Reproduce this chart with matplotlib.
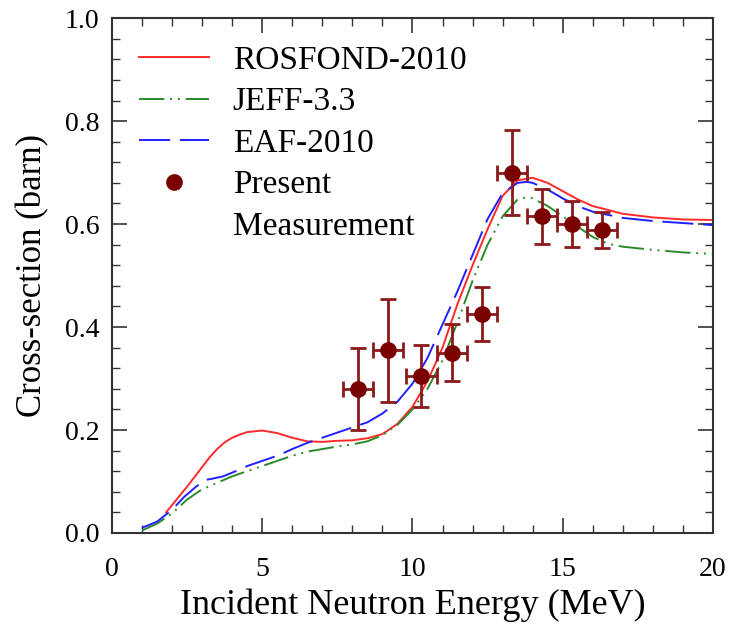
import matplotlib
matplotlib.use('Agg')
import matplotlib.pyplot as plt
from matplotlib.lines import Line2D
from matplotlib.ticker import MultipleLocator

plt.rcParams['font.family'] = ['Liberation Serif', 'DejaVu Serif']

# evaluated data libraries
ros_x = [1.8, 2.5, 3.0, 3.25, 3.5, 3.75, 4.0, 4.25, 4.5, 5.0, 5.5, 6.0, 6.5, 7.0, 7.5,
         8.0, 8.5, 9.0, 9.5, 10.0, 10.5, 11.0, 11.5, 12.0, 12.5, 13.0, 13.5, 14.0, 14.5,
         15.0, 15.5, 16.0, 17.0, 18.0, 19.0, 20.0]
ros_y = [0.04, 0.09, 0.128, 0.147, 0.163, 0.176, 0.185, 0.191, 0.196, 0.199, 0.194, 0.185,
         0.178, 0.177, 0.179, 0.18, 0.184, 0.192, 0.212, 0.245, 0.295, 0.36, 0.445, 0.52,
         0.59, 0.655, 0.685, 0.69, 0.68, 0.664, 0.648, 0.635, 0.62, 0.613, 0.609, 0.608]

jeff_x = [1.0, 1.5, 2.0, 2.5, 3.0, 3.3, 3.6, 4.0, 4.5, 5.0, 5.5, 6.0, 6.5, 7.0, 7.5, 8.0,
          8.5, 9.0, 9.5, 10.0, 10.5, 11.0, 11.5, 12.0, 12.5, 13.0, 13.5, 13.8, 14.0, 14.5,
          15.0, 15.5, 16.0, 16.5, 17.0, 18.0, 19.0, 20.0]
jeff_y = [0.005, 0.018, 0.038, 0.065, 0.085, 0.092, 0.1, 0.11, 0.12, 0.13, 0.14, 0.15,
          0.158, 0.163, 0.168, 0.172, 0.178, 0.19, 0.21, 0.24, 0.28, 0.335, 0.41, 0.49,
          0.56, 0.615, 0.648, 0.652, 0.65, 0.635, 0.615, 0.595, 0.575, 0.562, 0.556,
          0.55, 0.545, 0.542]

eaf_x = [1.0, 1.5, 2.0, 2.4, 2.8, 3.1, 3.3, 3.7, 4.2, 4.5, 5.0, 5.5, 6.0, 6.5, 7.0, 7.5,
         8.0, 8.5, 9.0, 9.5, 10.0, 10.5, 11.0, 11.5, 12.0, 12.5, 13.0, 13.5, 13.8, 14.0,
         14.5, 15.0, 15.5, 16.0, 17.0, 18.0, 19.0, 20.0]
eaf_y = [0.01, 0.022, 0.045, 0.07, 0.09, 0.103, 0.105, 0.11, 0.122, 0.13, 0.14, 0.15,
         0.163, 0.175, 0.185, 0.195, 0.205, 0.215, 0.232, 0.255, 0.29, 0.34, 0.405, 0.47,
         0.54, 0.61, 0.66, 0.68, 0.682, 0.68, 0.667, 0.65, 0.635, 0.624, 0.612, 0.606,
         0.602, 0.598]

# present measurement
meas_x = [8.2, 9.2, 10.3, 11.3, 12.3, 13.3, 14.3, 15.3, 16.3]
meas_y = [0.28, 0.355, 0.305, 0.35, 0.425, 0.70, 0.615, 0.60, 0.588]
meas_yerr = [0.08, 0.10, 0.06, 0.055, 0.053, 0.082, 0.053, 0.045, 0.035]
meas_xerr = [0.5, 0.5, 0.5, 0.5, 0.5, 0.5, 0.5, 0.5, 0.5]

dark_red = '#7a0000'

fig = plt.figure(figsize=(7.29, 6.26), dpi=100)
ax = fig.add_axes([0.1536, 0.1486, 0.8244, 0.8224])

ax.plot(ros_x, ros_y, color='#ff2a2a', lw=1.4, label='ROSFOND-2010')
ax.plot(jeff_x, jeff_y, color='#2a8a2a', lw=1.4, dashes=(13, 3, 1, 3, 1, 3), label='JEFF-3.3')
ax.plot(eaf_x, eaf_y, color='#2020ff', lw=1.4, dashes=(16, 5), label='EAF-2010')
ax.errorbar(meas_x, meas_y, yerr=meas_yerr, xerr=meas_xerr, fmt='o', color=dark_red,
            ecolor='#8b1a1a', ms=11, elinewidth=2, capsize=6, capthick=2)

h, l = ax.get_legend_handles_labels()
h += [Line2D([], [], ls='none', marker='o', color=dark_red, ms=11), Line2D([], [], ls='none')]
l += ['Present', 'Measurement']
ax.legend(h, l, loc='upper left', frameon=False, fontsize=24, handlelength=2.1,
          borderaxespad=0.42, labelspacing=0.33, handletextpad=0.7)

ax.set_xlim(0, 20)
ax.set_ylim(0, 1.0)
ax.xaxis.set_major_locator(MultipleLocator(5))
ax.xaxis.set_minor_locator(MultipleLocator(1))
ax.yaxis.set_major_locator(MultipleLocator(0.2))
ax.yaxis.set_minor_locator(MultipleLocator(0.04))
ax.yaxis.set_major_formatter(matplotlib.ticker.FormatStrFormatter('%.1f'))
ax.tick_params(which='both', direction='in', top=True, right=True, labelsize=20, color='#333333')
ax.tick_params(which='major', length=11, width=1.2)
ax.tick_params(which='minor', length=6, width=1.0)
ax.tick_params(axis='x', which='major', pad=17)
ax.tick_params(axis='y', which='major', pad=9)
for s in ax.spines.values():
    s.set_color('#333333')
    s.set_linewidth(1.5)

ax.set_xlabel('Incident Neutron Energy (MeV)', fontsize=26, labelpad=5)
ax.set_ylabel('Cross-section (barn)', fontsize=25, labelpad=11)

fig.savefig('out.png', dpi=100)
